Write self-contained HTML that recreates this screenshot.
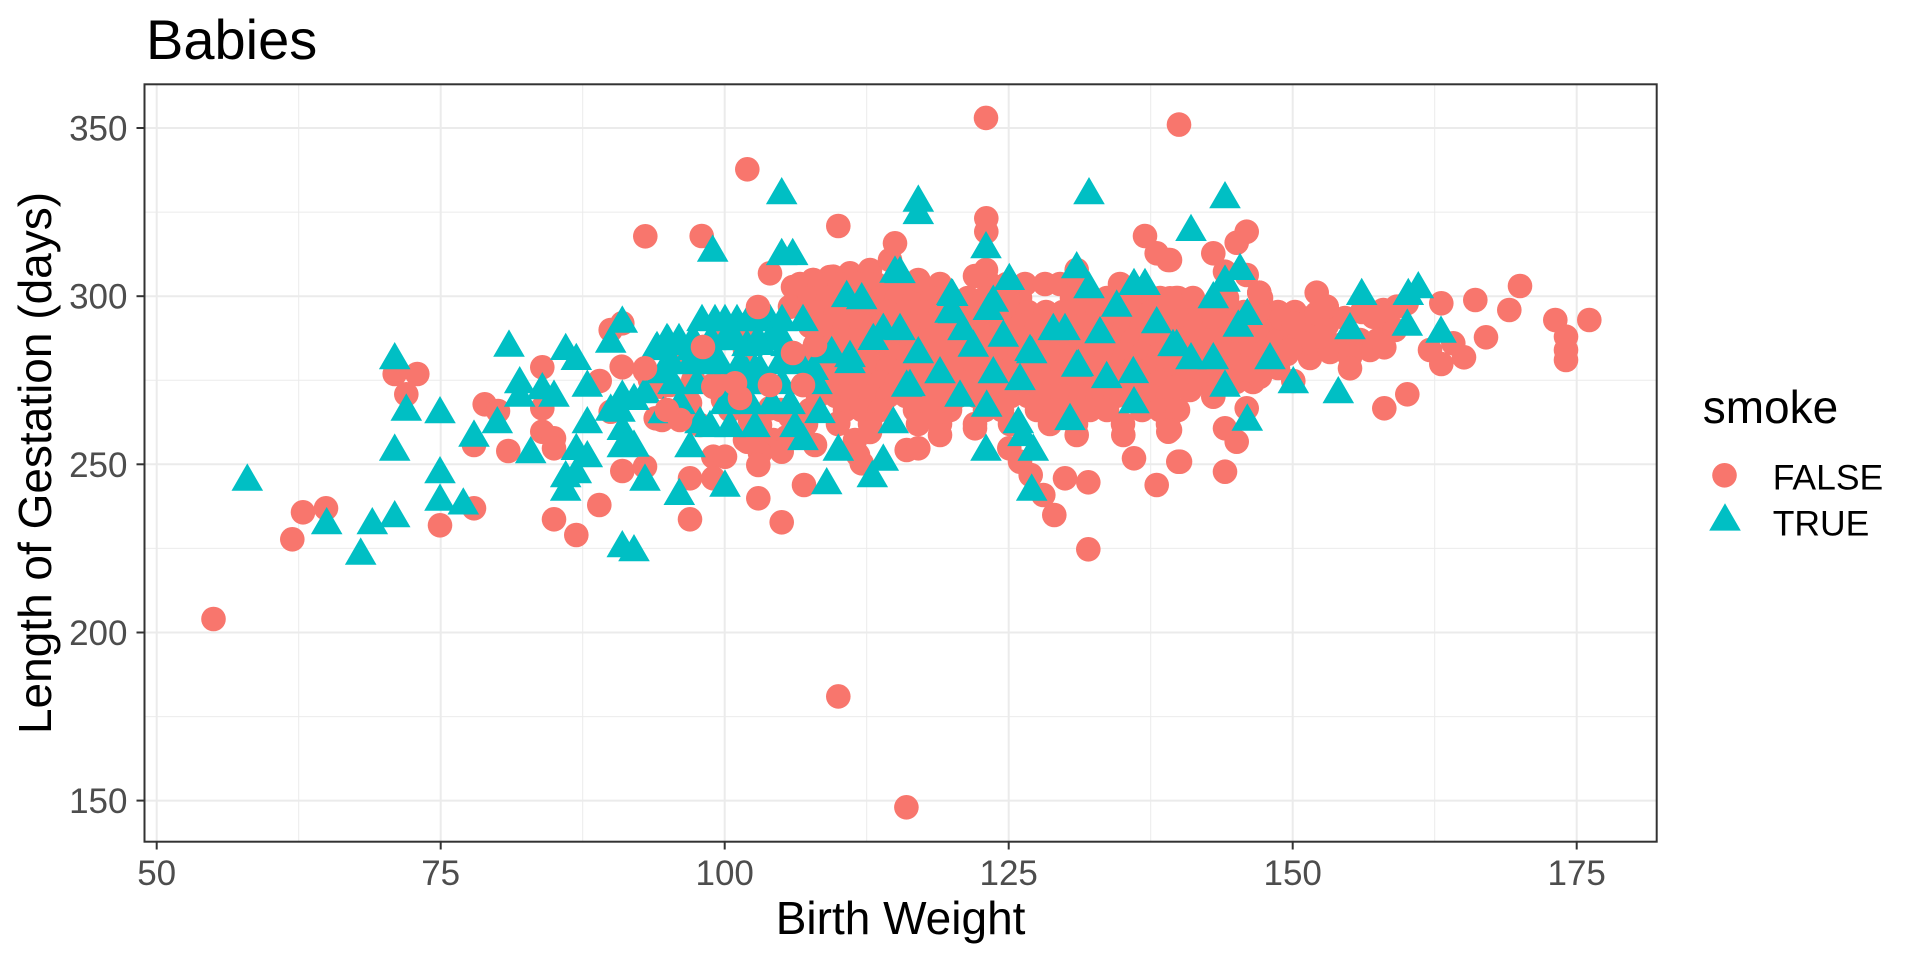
<!DOCTYPE html>
<html><head><meta charset="utf-8"><style>
html,body{margin:0;padding:0;background:#fff;}
svg{display:block;}
text{font-family:"Liberation Sans",Arial,sans-serif;}
</style></head><body>
<svg width="1920" height="960" viewBox="0 0 1920 960" xmlns="http://www.w3.org/2000/svg" xmlns:xlink="http://www.w3.org/1999/xlink">
<defs>
<circle id="c" cx="0" cy="0" r="12.3" fill="#F8766D"/>
<path id="t" d="M0,-18.2 L15.8,9.1 L-15.8,9.1 Z" fill="#00BFC4"/>
</defs>
<rect x="0" y="0" width="1920" height="960" fill="#fff"/>
<text x="146" y="59" font-size="56" fill="#000">Babies</text>
<rect x="144.5" y="84.3" width="1512.2" height="757.4" fill="#fff"/>
<g stroke="#EBEBEB" stroke-width="1">
<line x1="298.7" y1="84.3" x2="298.7" y2="841.7"/><line x1="582.7" y1="84.3" x2="582.7" y2="841.7"/><line x1="866.7" y1="84.3" x2="866.7" y2="841.7"/><line x1="1150.7" y1="84.3" x2="1150.7" y2="841.7"/><line x1="1434.7" y1="84.3" x2="1434.7" y2="841.7"/>
<line x1="144.5" y1="716.6" x2="1656.7" y2="716.6"/><line x1="144.5" y1="548.4" x2="1656.7" y2="548.4"/><line x1="144.5" y1="380.2" x2="1656.7" y2="380.2"/><line x1="144.5" y1="212.1" x2="1656.7" y2="212.1"/>
</g>
<g stroke="#EBEBEB" stroke-width="2">
<line x1="156.7" y1="84.3" x2="156.7" y2="841.7"/><line x1="440.7" y1="84.3" x2="440.7" y2="841.7"/><line x1="724.7" y1="84.3" x2="724.7" y2="841.7"/><line x1="1008.7" y1="84.3" x2="1008.7" y2="841.7"/><line x1="1292.7" y1="84.3" x2="1292.7" y2="841.7"/><line x1="1576.7" y1="84.3" x2="1576.7" y2="841.7"/>
<line x1="144.5" y1="800.6" x2="1656.7" y2="800.6"/><line x1="144.5" y1="632.5" x2="1656.7" y2="632.5"/><line x1="144.5" y1="464.3" x2="1656.7" y2="464.3"/><line x1="144.5" y1="296.2" x2="1656.7" y2="296.2"/><line x1="144.5" y1="128" x2="1656.7" y2="128"/>
</g>

<!-- left region circles (under) -->
<g>
<use href="#c" x="670" y="385"/><use href="#c" x="703" y="347"/><use href="#c" x="713" y="385"/><use href="#c" x="725" y="330"/><use href="#c" x="740" y="385"/><use href="#c" x="770" y="385"/><use href="#c" x="781" y="410"/><use href="#c" x="793" y="353"/><use href="#c" x="803" y="385"/><use href="#c" x="795" y="420"/><use href="#c" x="745" y="350"/><use href="#c" x="680" y="360"/><use href="#c" x="760" y="425"/><use href="#c" x="730" y="410"/><use href="#c" x="700" y="425"/><use href="#c" x="660" y="383"/><use href="#c" x="662" y="420"/><use href="#c" x="650" y="380"/><use href="#c" x="690" y="403"/><use href="#c" x="723" y="400"/><use href="#c" x="750" y="420"/><use href="#c" x="787" y="437"/><use href="#c" x="765" y="447"/><use href="#c" x="745" y="440"/><use href="#c" x="813" y="280"/><use href="#c" x="793" y="287"/><use href="#c" x="830" y="277"/><use href="#c" x="853" y="277"/>
<use href="#c" x="693.3" y="380"/><use href="#c" x="713.3" y="386.7"/><use href="#c" x="735" y="383.3"/><use href="#c" x="723.3" y="376.7"/><use href="#c" x="770" y="408.3"/><use href="#c" x="790" y="416.7"/><use href="#c" x="746.7" y="440"/><use href="#c" x="773.3" y="440"/><use href="#c" x="760" y="453.3"/><use href="#c" x="836.7" y="376.7"/><use href="#c" x="816.7" y="326.7"/><use href="#c" x="826.7" y="316.7"/><use href="#c" x="790" y="306.7"/><use href="#c" x="745" y="330"/><use href="#c" x="850" y="273.3"/><use href="#c" x="870" y="270"/><use href="#c" x="890" y="260"/><use href="#c" x="813.3" y="280"/><use href="#c" x="833.3" y="276.7"/>
</g>

<!-- center grid circles -->
<g>
<use href="#c" x="800" y="284"/><use href="#c" x="820" y="284"/><use href="#c" x="840" y="284"/><use href="#c" x="858" y="284"/><use href="#c" x="876" y="284"/><use href="#c" x="893" y="284"/><use href="#c" x="910" y="284"/><use href="#c" x="940" y="284"/><use href="#c" x="990" y="284"/><use href="#c" x="1007" y="284"/><use href="#c" x="1025" y="284"/><use href="#c" x="1045" y="284"/><use href="#c" x="1060" y="284"/><use href="#c" x="1080" y="284"/><use href="#c" x="1120" y="284"/>

<use href="#c" x="810" y="298"/><use href="#c" x="828" y="298"/><use href="#c" x="845" y="298"/><use href="#c" x="862" y="298"/><use href="#c" x="880" y="298"/><use href="#c" x="897" y="298"/><use href="#c" x="915" y="298"/><use href="#c" x="932" y="298"/><use href="#c" x="950" y="298"/><use href="#c" x="968" y="298"/><use href="#c" x="985" y="298"/><use href="#c" x="1002" y="298"/><use href="#c" x="1020" y="298"/><use href="#c" x="1072" y="298"/><use href="#c" x="1090" y="298"/><use href="#c" x="1107" y="298"/><use href="#c" x="1125" y="298"/><use href="#c" x="1142" y="298"/><use href="#c" x="1160" y="298"/><use href="#c" x="1178" y="298"/>

<use href="#c" x="818" y="312"/><use href="#c" x="836" y="312"/><use href="#c" x="853" y="312"/><use href="#c" x="871" y="312"/><use href="#c" x="888" y="312"/><use href="#c" x="906" y="312"/><use href="#c" x="923" y="312"/><use href="#c" x="941" y="312"/><use href="#c" x="958" y="312"/><use href="#c" x="976" y="312"/><use href="#c" x="993" y="312"/><use href="#c" x="1011" y="312"/><use href="#c" x="1028" y="312"/><use href="#c" x="1046" y="312"/><use href="#c" x="1063" y="312"/><use href="#c" x="1081" y="312"/><use href="#c" x="1098" y="312"/><use href="#c" x="1116" y="312"/><use href="#c" x="1133" y="312"/><use href="#c" x="1151" y="312"/><use href="#c" x="1168" y="312"/>

<use href="#c" x="810" y="326"/><use href="#c" x="828" y="326"/><use href="#c" x="845" y="326"/><use href="#c" x="862" y="326"/><use href="#c" x="880" y="326"/><use href="#c" x="897" y="326"/><use href="#c" x="915" y="326"/><use href="#c" x="932" y="326"/><use href="#c" x="950" y="326"/><use href="#c" x="968" y="326"/><use href="#c" x="985" y="326"/><use href="#c" x="1002" y="326"/><use href="#c" x="1020" y="326"/><use href="#c" x="1037" y="326"/><use href="#c" x="1055" y="326"/><use href="#c" x="1072" y="326"/><use href="#c" x="1090" y="326"/><use href="#c" x="1107" y="326"/><use href="#c" x="1125" y="326"/><use href="#c" x="1142" y="326"/><use href="#c" x="1160" y="326"/><use href="#c" x="1178" y="326"/>

<use href="#c" x="818" y="340"/><use href="#c" x="836" y="340"/><use href="#c" x="853" y="340"/><use href="#c" x="871" y="340"/><use href="#c" x="888" y="340"/><use href="#c" x="906" y="340"/><use href="#c" x="923" y="340"/><use href="#c" x="941" y="340"/><use href="#c" x="958" y="340"/><use href="#c" x="976" y="340"/><use href="#c" x="993" y="340"/><use href="#c" x="1011" y="340"/><use href="#c" x="1028" y="340"/><use href="#c" x="1046" y="340"/><use href="#c" x="1063" y="340"/><use href="#c" x="1081" y="340"/><use href="#c" x="1098" y="340"/><use href="#c" x="1116" y="340"/><use href="#c" x="1133" y="340"/><use href="#c" x="1151" y="340"/><use href="#c" x="1168" y="340"/>

<use href="#c" x="810" y="354"/><use href="#c" x="828" y="354"/><use href="#c" x="845" y="354"/><use href="#c" x="862" y="354"/><use href="#c" x="880" y="354"/><use href="#c" x="897" y="354"/><use href="#c" x="915" y="354"/><use href="#c" x="932" y="354"/><use href="#c" x="950" y="354"/><use href="#c" x="968" y="354"/><use href="#c" x="985" y="354"/><use href="#c" x="1002" y="354"/><use href="#c" x="1020" y="354"/><use href="#c" x="1037" y="354"/><use href="#c" x="1055" y="354"/><use href="#c" x="1072" y="354"/><use href="#c" x="1090" y="354"/><use href="#c" x="1107" y="354"/><use href="#c" x="1125" y="354"/><use href="#c" x="1142" y="354"/><use href="#c" x="1160" y="354"/><use href="#c" x="1178" y="354"/>

<use href="#c" x="818" y="368"/><use href="#c" x="836" y="368"/><use href="#c" x="853" y="368"/><use href="#c" x="871" y="368"/><use href="#c" x="888" y="368"/><use href="#c" x="906" y="368"/><use href="#c" x="923" y="368"/><use href="#c" x="941" y="368"/><use href="#c" x="958" y="368"/><use href="#c" x="976" y="368"/><use href="#c" x="993" y="368"/><use href="#c" x="1011" y="368"/><use href="#c" x="1028" y="368"/><use href="#c" x="1046" y="368"/><use href="#c" x="1063" y="368"/><use href="#c" x="1081" y="368"/><use href="#c" x="1098" y="368"/><use href="#c" x="1116" y="368"/><use href="#c" x="1133" y="368"/><use href="#c" x="1151" y="368"/><use href="#c" x="1168" y="368"/>

<use href="#c" x="810" y="382"/><use href="#c" x="828" y="382"/><use href="#c" x="845" y="382"/><use href="#c" x="862" y="382"/><use href="#c" x="880" y="382"/><use href="#c" x="897" y="382"/><use href="#c" x="915" y="382"/><use href="#c" x="932" y="382"/><use href="#c" x="950" y="382"/><use href="#c" x="968" y="382"/><use href="#c" x="985" y="382"/><use href="#c" x="1002" y="382"/><use href="#c" x="1020" y="382"/><use href="#c" x="1037" y="382"/><use href="#c" x="1055" y="382"/><use href="#c" x="1072" y="382"/><use href="#c" x="1090" y="382"/><use href="#c" x="1107" y="382"/><use href="#c" x="1125" y="382"/><use href="#c" x="1142" y="382"/><use href="#c" x="1160" y="382"/><use href="#c" x="1178" y="382"/>

<use href="#c" x="818" y="396"/><use href="#c" x="836" y="396"/><use href="#c" x="853" y="396"/><use href="#c" x="871" y="396"/><use href="#c" x="888" y="396"/><use href="#c" x="906" y="396"/><use href="#c" x="923" y="396"/><use href="#c" x="941" y="396"/><use href="#c" x="958" y="396"/><use href="#c" x="976" y="396"/><use href="#c" x="993" y="396"/><use href="#c" x="1011" y="396"/><use href="#c" x="1028" y="396"/><use href="#c" x="1046" y="396"/><use href="#c" x="1063" y="396"/><use href="#c" x="1081" y="396"/><use href="#c" x="1098" y="396"/><use href="#c" x="1116" y="396"/><use href="#c" x="1133" y="396"/><use href="#c" x="1151" y="396"/><use href="#c" x="1168" y="396"/>

<use href="#c" x="810" y="410"/><use href="#c" x="845" y="410"/><use href="#c" x="862" y="410"/><use href="#c" x="880" y="410"/><use href="#c" x="915" y="410"/><use href="#c" x="932" y="410"/><use href="#c" x="950" y="410"/><use href="#c" x="985" y="410"/><use href="#c" x="1002" y="410"/><use href="#c" x="1037" y="410"/><use href="#c" x="1055" y="410"/><use href="#c" x="1072" y="410"/><use href="#c" x="1090" y="410"/><use href="#c" x="1107" y="410"/><use href="#c" x="1142" y="410"/><use href="#c" x="1160" y="410"/><use href="#c" x="1178" y="410"/>

<use href="#c" x="806" y="424"/><use href="#c" x="838" y="424"/><use href="#c" x="870" y="424"/><use href="#c" x="918" y="424"/><use href="#c" x="940" y="424"/><use href="#c" x="975" y="424"/><use href="#c" x="1010" y="424"/><use href="#c" x="1050" y="424"/><use href="#c" x="1076" y="424"/><use href="#c" x="1123" y="424"/><use href="#c" x="1168" y="424"/>
<use href="#c" x="855" y="440"/><use href="#c" x="870" y="432"/><use href="#c" x="858" y="455"/>
</g>

<!-- right dense mass -->
<g>
<use href="#c" x="1176" y="298"/><use href="#c" x="1193" y="298"/><use href="#c" x="1227" y="298"/><use href="#c" x="1261" y="298"/>
<use href="#c" x="1176" y="312"/><use href="#c" x="1193" y="312"/><use href="#c" x="1210" y="312"/><use href="#c" x="1227" y="312"/><use href="#c" x="1244" y="312"/><use href="#c" x="1261" y="312"/><use href="#c" x="1278" y="312"/><use href="#c" x="1295" y="312"/>
<use href="#c" x="1185" y="326"/><use href="#c" x="1202" y="326"/><use href="#c" x="1219" y="326"/><use href="#c" x="1236" y="326"/><use href="#c" x="1253" y="326"/><use href="#c" x="1270" y="326"/><use href="#c" x="1287" y="326"/>
<use href="#c" x="1176" y="340"/><use href="#c" x="1193" y="340"/><use href="#c" x="1210" y="340"/><use href="#c" x="1227" y="340"/><use href="#c" x="1244" y="340"/><use href="#c" x="1261" y="340"/><use href="#c" x="1278" y="340"/><use href="#c" x="1295" y="340"/>
<use href="#c" x="1185" y="354"/><use href="#c" x="1202" y="354"/><use href="#c" x="1219" y="354"/><use href="#c" x="1236" y="354"/><use href="#c" x="1253" y="354"/><use href="#c" x="1270" y="354"/><use href="#c" x="1287" y="354"/>
<use href="#c" x="1176" y="368"/><use href="#c" x="1193" y="368"/><use href="#c" x="1210" y="368"/><use href="#c" x="1227" y="368"/><use href="#c" x="1244" y="368"/><use href="#c" x="1261" y="368"/><use href="#c" x="1278" y="368"/>
<use href="#c" x="1185" y="382"/><use href="#c" x="1202" y="382"/><use href="#c" x="1219" y="382"/><use href="#c" x="1236" y="382"/><use href="#c" x="1253" y="382"/>
<use href="#c" x="1310" y="318"/><use href="#c" x="1327" y="325"/><use href="#c" x="1345" y="318"/><use href="#c" x="1362" y="312"/><use href="#c" x="1380" y="318"/><use href="#c" x="1320" y="340"/><use href="#c" x="1340" y="345"/><use href="#c" x="1360" y="340"/><use href="#c" x="1378" y="340"/><use href="#c" x="1395" y="330"/><use href="#c" x="1310" y="358"/><use href="#c" x="1330" y="352"/><use href="#c" x="1350" y="357"/><use href="#c" x="1370" y="350"/><use href="#c" x="1300" y="336"/>
</g>

<!-- listed circles (right) -->
<g>
<use href="#c" x="1246.7" y="231.7"/><use href="#c" x="1236.7" y="242.7"/><use href="#c" x="1213.3" y="253.3"/><use href="#c" x="1170" y="260"/><use href="#c" x="1246.7" y="275"/><use href="#c" x="1225" y="271.7"/><use href="#c" x="1259.3" y="292.7"/><use href="#c" x="1259.3" y="310"/><use href="#c" x="1316.7" y="292.7"/><use href="#c" x="1326.7" y="306.7"/><use href="#c" x="1316.7" y="313.3"/><use href="#c" x="1281.7" y="318.3"/><use href="#c" x="1293.3" y="323.3"/><use href="#c" x="1213.3" y="316.7"/><use href="#c" x="1190" y="320"/><use href="#c" x="1176.7" y="316.7"/><use href="#c" x="1170" y="298.3"/><use href="#c" x="1441.3" y="303.3"/><use href="#c" x="1475.3" y="300"/><use href="#c" x="1520" y="286"/><use href="#c" x="1509.3" y="310"/><use href="#c" x="1555.3" y="320"/><use href="#c" x="1589.3" y="320"/><use href="#c" x="1566" y="336.7"/><use href="#c" x="1566" y="350"/><use href="#c" x="1566" y="360"/><use href="#c" x="1486" y="337.3"/><use href="#c" x="1453.3" y="343.3"/><use href="#c" x="1430" y="350"/><use href="#c" x="1464" y="357.3"/><use href="#c" x="1441.3" y="364"/><use href="#c" x="1384.3" y="347.3"/><use href="#c" x="1406.7" y="303.3"/><use href="#c" x="1396.7" y="306.7"/><use href="#c" x="1383.3" y="310"/><use href="#c" x="1373.3" y="316.7"/><use href="#c" x="1350" y="343.3"/><use href="#c" x="1350" y="356.7"/><use href="#c" x="1350" y="368.3"/><use href="#c" x="1320" y="336.7"/><use href="#c" x="1303.3" y="343.3"/><use href="#c" x="1290" y="350"/><use href="#c" x="1293.3" y="381"/><use href="#c" x="1260" y="376.7"/><use href="#c" x="1246.7" y="370"/><use href="#c" x="1213.3" y="396.7"/><use href="#c" x="1190" y="390"/><use href="#c" x="1176.7" y="386.7"/><use href="#c" x="1246.7" y="408.3"/><use href="#c" x="1225" y="428.3"/><use href="#c" x="1236.7" y="441.7"/><use href="#c" x="1170" y="430"/><use href="#c" x="1180" y="461.7"/><use href="#c" x="1225" y="471.7"/><use href="#c" x="1384.3" y="408.3"/><use href="#c" x="1407.3" y="394.3"/>
</g>

<!-- listed circles (middle) -->
<g>
<use href="#c" x="747.3" y="169.3"/><use href="#c" x="701.7" y="236"/><use href="#c" x="838.3" y="226"/><use href="#c" x="895" y="243.3"/><use href="#c" x="986.3" y="218.3"/><use href="#c" x="986.3" y="231.7"/><use href="#c" x="770" y="273.3"/><use href="#c" x="986" y="270"/><use href="#c" x="975" y="276"/><use href="#c" x="1145" y="236"/><use href="#c" x="1156.7" y="253.3"/><use href="#c" x="1168.3" y="260"/><use href="#c" x="1076.7" y="270"/><use href="#c" x="918.3" y="280"/><use href="#c" x="690" y="411.7"/><use href="#c" x="713.3" y="456.7"/><use href="#c" x="725" y="456.7"/><use href="#c" x="690" y="478.3"/><use href="#c" x="713.3" y="478.3"/><use href="#c" x="758.3" y="465"/><use href="#c" x="758.3" y="498.3"/><use href="#c" x="690" y="519.3"/><use href="#c" x="781.7" y="522.3"/><use href="#c" x="804" y="485"/><use href="#c" x="815" y="445"/><use href="#c" x="781.7" y="451.7"/><use href="#c" x="747.3" y="441.7"/><use href="#c" x="861.7" y="463.3"/><use href="#c" x="906.7" y="450"/><use href="#c" x="918.3" y="448.3"/><use href="#c" x="940" y="435"/><use href="#c" x="975" y="428.3"/><use href="#c" x="1009.3" y="448.3"/><use href="#c" x="1020" y="461.7"/><use href="#c" x="1030.7" y="475"/><use href="#c" x="1043.3" y="495"/><use href="#c" x="1054.3" y="515"/><use href="#c" x="1065" y="478.3"/><use href="#c" x="1088.3" y="482.3"/><use href="#c" x="1088.3" y="549.3"/><use href="#c" x="1076.7" y="435"/><use href="#c" x="1123.3" y="435"/><use href="#c" x="1134" y="458.3"/><use href="#c" x="1156.7" y="485"/><use href="#c" x="1168.3" y="431.7"/><use href="#c" x="1178.3" y="461.7"/><use href="#c" x="838.3" y="423.3"/><use href="#c" x="838.3" y="696.4"/><use href="#c" x="906.4" y="807.3"/><use href="#c" x="986" y="117.9"/><use href="#c" x="1179" y="124.6"/><use href="#c" x="213.5" y="619"/>
</g>

<!-- listed circles (left) -->
<g>
<use href="#c" x="645.3" y="236.3"/><use href="#c" x="303" y="512.3"/><use href="#c" x="326" y="508.3"/><use href="#c" x="292.3" y="539.3"/><use href="#c" x="394.7" y="374"/><use href="#c" x="417.3" y="374"/><use href="#c" x="406.3" y="394.3"/><use href="#c" x="440" y="525.3"/><use href="#c" x="474" y="508.3"/><use href="#c" x="474" y="445"/><use href="#c" x="484.7" y="404.3"/><use href="#c" x="498" y="411"/><use href="#c" x="508.3" y="451"/><use href="#c" x="542.3" y="367.3"/><use href="#c" x="542.3" y="408.3"/><use href="#c" x="542.3" y="431.7"/><use href="#c" x="554" y="438.3"/><use href="#c" x="554" y="448.3"/><use href="#c" x="554" y="519.3"/><use href="#c" x="576.3" y="535"/><use href="#c" x="599.3" y="505"/><use href="#c" x="599.7" y="381"/><use href="#c" x="610.7" y="330"/><use href="#c" x="622.3" y="323.3"/><use href="#c" x="622.3" y="367.3"/><use href="#c" x="610.7" y="411.7"/><use href="#c" x="622.3" y="471"/><use href="#c" x="645" y="466.7"/><use href="#c" x="645" y="371"/><use href="#c" x="655.7" y="418.3"/><use href="#c" x="660.7" y="386.7"/>
</g>

<!-- triangles -->
<g>
<use href="#t" x="702" y="322"/><use href="#t" x="725" y="322"/><use href="#t" x="737" y="322"/><use href="#t" x="748" y="322"/><use href="#t" x="770" y="322"/><use href="#t" x="782" y="322"/><use href="#t" x="803" y="322"/><use href="#t" x="715" y="322"/><use href="#t" x="760" y="322"/>
<use href="#t" x="667" y="341"/><use href="#t" x="679" y="341"/><use href="#t" x="693" y="341"/><use href="#t" x="711" y="341"/><use href="#t" x="725" y="341"/><use href="#t" x="747" y="347"/><use href="#t" x="770" y="341"/><use href="#t" x="786" y="347"/><use href="#t" x="735" y="341"/><use href="#t" x="758" y="341"/><use href="#t" x="657" y="349"/>
<use href="#t" x="672" y="365"/><use href="#t" x="690" y="365"/><use href="#t" x="705" y="365"/><use href="#t" x="720" y="365"/><use href="#t" x="740" y="365"/><use href="#t" x="755" y="371"/><use href="#t" x="780" y="365"/><use href="#t" x="800" y="365"/>
<use href="#t" x="673" y="385"/><use href="#t" x="697" y="385"/><use href="#t" x="747" y="385"/><use href="#t" x="760" y="385"/><use href="#t" x="782" y="385"/><use href="#t" x="817" y="385"/>
<use href="#t" x="680" y="405"/><use href="#t" x="725" y="405"/><use href="#t" x="750" y="405"/><use href="#t" x="772" y="405"/><use href="#t" x="790" y="405"/>
<use href="#t" x="710" y="428"/><use href="#t" x="730" y="428"/><use href="#t" x="755" y="428"/><use href="#t" x="795" y="428"/><use href="#t" x="803" y="441"/>
<use href="#t" x="656.7" y="351"/><use href="#t" x="668.3" y="342.6"/><use href="#t" x="680" y="346"/><use href="#t" x="691.7" y="351"/><use href="#t" x="760" y="345.9"/><use href="#t" x="780" y="337.6"/><use href="#t" x="813.3" y="370.9"/><use href="#t" x="823.3" y="354.2"/><use href="#t" x="716.7" y="360.9"/><use href="#t" x="746.7" y="374.2"/><use href="#t" x="693.3" y="364.2"/><use href="#t" x="620" y="412.6"/><use href="#t" x="700" y="424.2"/><use href="#t" x="663.3" y="414.2"/><use href="#t" x="760" y="371"/><use href="#t" x="820" y="414"/>
<use href="#t" x="247.3" y="481.6"/><use href="#t" x="394.7" y="360.2"/><use href="#t" x="406.3" y="411.6"/><use href="#t" x="440" y="414.2"/><use href="#t" x="394.7" y="451.6"/><use href="#t" x="326.7" y="525.2"/><use href="#t" x="372.3" y="525.2"/><use href="#t" x="394.7" y="518.2"/><use href="#t" x="360.7" y="555.6"/><use href="#t" x="440" y="474.2"/><use href="#t" x="440" y="501.6"/><use href="#t" x="463.3" y="505.4"/><use href="#t" x="474" y="437.6"/><use href="#t" x="497.3" y="424.2"/><use href="#t" x="509" y="347.6"/><use href="#t" x="519.7" y="384.2"/><use href="#t" x="519.7" y="397.6"/><use href="#t" x="530.7" y="454.2"/><use href="#t" x="542.3" y="390.2"/><use href="#t" x="554" y="397.6"/><use href="#t" x="565.7" y="350.9"/><use href="#t" x="576.3" y="360.9"/><use href="#t" x="587.3" y="387.6"/><use href="#t" x="565.7" y="478.2"/><use href="#t" x="576.3" y="474.2"/><use href="#t" x="565.7" y="491.6"/><use href="#t" x="587.3" y="424.2"/><use href="#t" x="576.3" y="450.9"/><use href="#t" x="587.3" y="458.2"/><use href="#t" x="610.7" y="343.6"/><use href="#t" x="622.3" y="323.6"/><use href="#t" x="610.7" y="411.6"/><use href="#t" x="622.3" y="397.6"/><use href="#t" x="622.3" y="430.9"/><use href="#t" x="622.3" y="448.2"/><use href="#t" x="634" y="400.9"/><use href="#t" x="645" y="394.2"/><use href="#t" x="634" y="447.6"/><use href="#t" x="645" y="481.6"/><use href="#t" x="622.3" y="548.2"/><use href="#t" x="634" y="552.2"/><use href="#t" x="655.7" y="350.9"/><use href="#t" x="662" y="374.2"/>
<use href="#t" x="781.7" y="195.2"/><use href="#t" x="918.3" y="202.6"/><use href="#t" x="918.3" y="215"/><use href="#t" x="1089" y="195.2"/><use href="#t" x="712.7" y="252.6"/><use href="#t" x="781.7" y="256"/><use href="#t" x="792.7" y="256"/><use href="#t" x="986" y="249.2"/><use href="#t" x="895" y="273.6"/><use href="#t" x="1009.3" y="280.9"/><use href="#t" x="1076.7" y="269.2"/><use href="#t" x="1089" y="289.2"/><use href="#t" x="1134" y="285.9"/><use href="#t" x="1145" y="285.9"/><use href="#t" x="952.7" y="296.9"/><use href="#t" x="861.7" y="300.2"/><use href="#t" x="679.3" y="495.9"/><use href="#t" x="725" y="487.6"/><use href="#t" x="826.7" y="485.2"/><use href="#t" x="872.3" y="478.2"/><use href="#t" x="883.3" y="461.6"/><use href="#t" x="986" y="451.6"/><use href="#t" x="1031.7" y="491.6"/><use href="#t" x="1033.3" y="451.6"/><use href="#t" x="838.3" y="451.6"/><use href="#t" x="690" y="448.2"/><use href="#t" x="1134" y="404.2"/>
<use href="#t" x="883.3" y="330.8"/><use href="#t" x="873.3" y="340.9"/><use href="#t" x="918.3" y="354.2"/><use href="#t" x="973.3" y="347.6"/><use href="#t" x="1031.7" y="354.2"/><use href="#t" x="1065" y="331"/><use href="#t" x="1078.3" y="367"/><use href="#t" x="1100" y="334.2"/><use href="#t" x="1156.7" y="324.2"/><use href="#t" x="1116.7" y="307.6"/><use href="#t" x="1053.3" y="331"/><use href="#t" x="953.3" y="314.2"/><use href="#t" x="906.7" y="387.6"/><use href="#t" x="940" y="374.2"/><use href="#t" x="993.3" y="374.2"/><use href="#t" x="1076.7" y="367.6"/><use href="#t" x="960" y="397.6"/><use href="#t" x="986.7" y="407.6"/><use href="#t" x="893.3" y="424.2"/><use href="#t" x="1018.3" y="424.2"/><use href="#t" x="1070" y="421"/><use href="#t" x="850" y="358"/><use href="#t" x="846.7" y="298"/><use href="#t" x="831.7" y="354"/><use href="#t" x="1003.3" y="337.6"/><use href="#t" x="1133.3" y="374"/><use href="#t" x="1176.7" y="347"/><use href="#t" x="950" y="313.7"/><use href="#t" x="993.3" y="302.7"/><use href="#t" x="1030" y="352"/><use href="#t" x="850" y="364"/><use href="#t" x="1023" y="437"/><use href="#t" x="1020" y="381"/>
<use href="#t" x="900" y="274"/><use href="#t" x="951.7" y="295.9"/><use href="#t" x="988.3" y="310.9"/><use href="#t" x="963" y="331"/><use href="#t" x="900" y="331"/><use href="#t" x="910" y="387"/><use href="#t" x="1106.7" y="379"/>
<use href="#t" x="1225" y="199.2"/><use href="#t" x="1191" y="231.9"/><use href="#t" x="1240" y="270.9"/><use href="#t" x="1225" y="282.6"/><use href="#t" x="1213.3" y="299.2"/><use href="#t" x="1247.3" y="315.9"/><use href="#t" x="1238.3" y="327.6"/><use href="#t" x="1361.7" y="295.9"/><use href="#t" x="1408.3" y="295.9"/><use href="#t" x="1418.3" y="289.2"/><use href="#t" x="1350" y="330.2"/><use href="#t" x="1407.3" y="326.6"/><use href="#t" x="1441" y="333.6"/><use href="#t" x="1191" y="360.2"/><use href="#t" x="1213.3" y="360.2"/><use href="#t" x="1270" y="360.2"/><use href="#t" x="1225" y="387.6"/><use href="#t" x="1293.3" y="384.2"/><use href="#t" x="1338.3" y="394.2"/><use href="#t" x="1247.3" y="421.6"/><use href="#t" x="1173" y="347"/>
</g>

<!-- overlay circles -->
<g>
<use href="#c" x="758" y="307"/><use href="#c" x="793" y="353"/><use href="#c" x="770" y="385"/><use href="#c" x="703" y="347"/><use href="#c" x="680" y="420"/><use href="#c" x="740" y="398"/><use href="#c" x="815" y="345"/><use href="#c" x="803" y="385"/><use href="#c" x="667" y="410"/><use href="#c" x="1259.3" y="292.7"/><use href="#c" x="1326.7" y="306.7"/><use href="#c" x="713.3" y="386.7"/><use href="#c" x="735" y="383.3"/><use href="#c" x="621.7" y="366.7"/><use href="#c" x="645" y="368.3"/>
</g>

<rect x="144.5" y="84.3" width="1512.2" height="757.4" fill="none" stroke="#333333" stroke-width="2"/>
<g stroke="#333333" stroke-width="2">
<line x1="136.5" y1="128" x2="144.5" y2="128"/><line x1="136.5" y1="296.2" x2="144.5" y2="296.2"/><line x1="136.5" y1="464.3" x2="144.5" y2="464.3"/><line x1="136.5" y1="632.5" x2="144.5" y2="632.5"/><line x1="136.5" y1="800.6" x2="144.5" y2="800.6"/>
<line x1="156.7" y1="841.7" x2="156.7" y2="849.5"/><line x1="440.7" y1="841.7" x2="440.7" y2="849.5"/><line x1="724.7" y1="841.7" x2="724.7" y2="849.5"/><line x1="1008.7" y1="841.7" x2="1008.7" y2="849.5"/><line x1="1292.7" y1="841.7" x2="1292.7" y2="849.5"/><line x1="1576.7" y1="841.7" x2="1576.7" y2="849.5"/>
</g>
<g font-size="35" fill="#4D4D4D" text-anchor="end">
<text x="127.5" y="140.5">350</text><text x="127.5" y="308.7">300</text><text x="127.5" y="476.8">250</text><text x="127.5" y="645">200</text><text x="127.5" y="813.1">150</text>
</g>
<g font-size="35" fill="#4D4D4D" text-anchor="middle">
<text x="156.7" y="885">50</text><text x="440.7" y="885">75</text><text x="724.7" y="885">100</text><text x="1008.7" y="885">125</text><text x="1292.7" y="885">150</text><text x="1576.7" y="885">175</text>
</g>
<text x="900.6" y="934" font-size="46" fill="#000" text-anchor="middle">Birth Weight</text>
<text transform="translate(51,463) rotate(-90)" font-size="46" fill="#000" text-anchor="middle">Length of Gestation (days)</text>
<text x="1702.7" y="423" font-size="46" fill="#000">smoke</text>
<use href="#c" x="1724.5" y="475.3"/>
<use href="#t" x="1725" y="521.5"/>
<text x="1772.7" y="489.3" font-size="35.5" fill="#000">FALSE</text>
<text x="1772.7" y="535.7" font-size="35.5" fill="#000">TRUE</text>
</svg>
</body></html>
